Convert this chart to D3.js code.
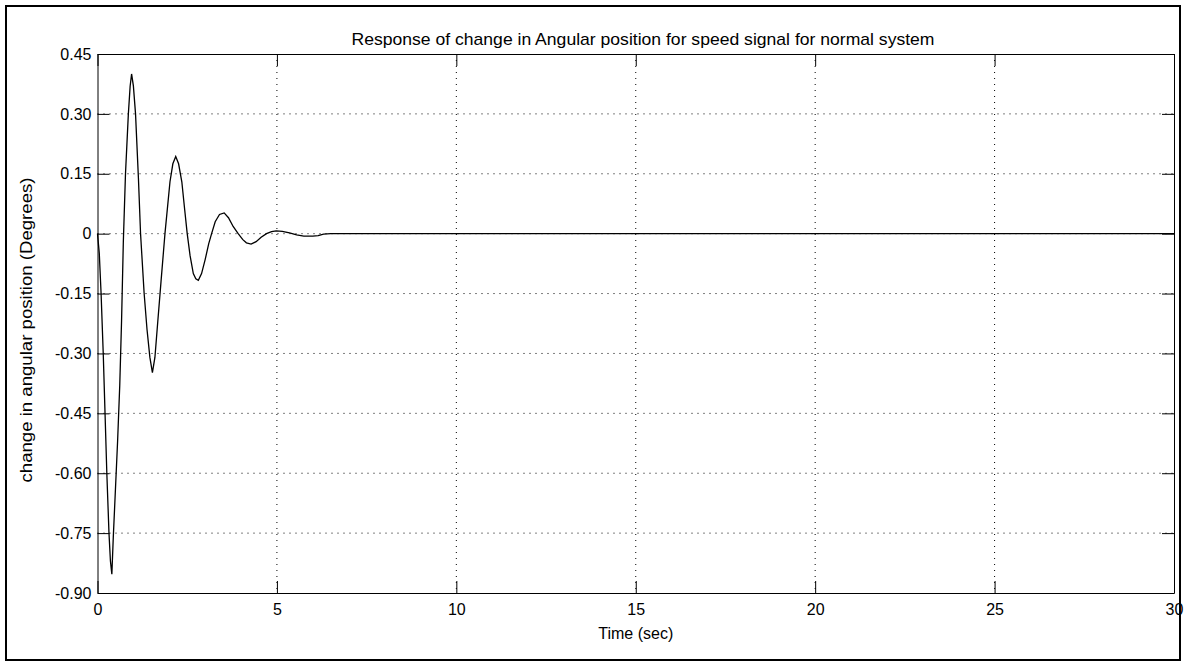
<!DOCTYPE html>
<html>
<head>
<meta charset="utf-8">
<script src="https://cdn.jsdelivr.net/npm/d3@7"></script>
<style>
  body { margin: 0; background: #fff; }
  text { font-family: "Liberation Sans", Arial, sans-serif; fill: #000; }
</style>
</head>
<body>
<div id="chart"></div>
<script>
// time (sec) and response (degrees)
const time = [0, 0.05, 0.10, 0.16, 0.21, 0.26, 0.32, 0.36, 0.40, 0.44, 0.50, 0.56, 0.62, 0.67, 0.72,
  0.78, 0.86, 0.91, 0.95, 1.00, 1.06, 1.14, 1.20, 1.30, 1.38, 1.46, 1.53, 1.60, 1.68, 1.77, 1.88,
  2.02, 2.10, 2.18, 2.26, 2.35, 2.43, 2.50, 2.58, 2.67, 2.74, 2.81, 2.90, 3.00, 3.10, 3.18, 3.28,
  3.40, 3.53, 3.65, 3.78, 3.92, 4.05, 4.15, 4.28, 4.42, 4.56, 4.71, 4.85, 4.98, 5.15, 5.35, 5.55,
  5.75, 6.00, 6.15, 6.30, 6.50, 30];
const response = [0, -0.05, -0.15, -0.30, -0.45, -0.60, -0.75, -0.82, -0.853, -0.76, -0.64, -0.52, -0.38, -0.22, -0.02,
  0.15, 0.30, 0.37, 0.40, 0.37, 0.30, 0.14, 0.00, -0.15, -0.24, -0.31, -0.348, -0.31, -0.22, -0.12, 0.00,
  0.13, 0.175, 0.193, 0.175, 0.13, 0.06, 0.00, -0.055, -0.10, -0.113, -0.117, -0.10, -0.065, -0.025, 0.00, 0.03,
  0.048, 0.052, 0.04, 0.018, 0.00, -0.015, -0.023, -0.026, -0.02, -0.009, 0.00, 0.005, 0.007, 0.006, 0.002, -0.003,
  -0.006, -0.006, -0.005, -0.001, 0, 0];
const xTicks = [0, 5, 10, 15, 20, 25, 30];
const yTicks = [0.45, 0.30, 0.15, 0, -0.15, -0.30, -0.45, -0.60, -0.75, -0.90];
const yTickLabels = ["0.45", "0.30", "0.15", "0", "-0.15", "-0.30", "-0.45", "-0.60", "-0.75", "-0.90"];

const data = time.map((t, i) => ({ t: t, v: response[i] }));

let width = 1184, height = 664,
  margin = ({ top: 54, right: 10, bottom: 71, left: 97.5 });

let x = d3.scaleLinear()
  .domain([0, 30])
  .range([margin.left, width - margin.right]);

let y = d3.scaleLinear()
  .domain([-0.90, 0.45])
  .range([height - margin.bottom, margin.top]);

const svg = d3.select("#chart")
  .append("svg")
  .attr("width", width)
  .attr("height", height);

// outer frame
svg.append("rect")
  .attr("x", 6).attr("y", 6)
  .attr("width", 1174).attr("height", 654)
  .attr("fill", "none")
  .attr("stroke", "#000")
  .attr("stroke-width", 2);

// grid
svg.append("g")
  .selectAll("line")
  .data(xTicks.slice(1, -1))
  .join("line")
  .attr("x1", d => x(d)).attr("x2", d => x(d))
  .attr("y1", y(0.45)).attr("y2", y(-0.90))
  .attr("stroke", "#000")
  .attr("stroke-dasharray", "1,5");

svg.append("g")
  .selectAll("line")
  .data(yTicks.slice(1, -1))
  .join("line")
  .attr("x1", x(0)).attr("x2", x(30))
  .attr("y1", d => y(d)).attr("y2", d => y(d))
  .attr("stroke", "#000")
  .attr("stroke-dasharray", "1,5");

// axes, ticks pointing inward on all four sides
const fmt = (d, i) => yTickLabels[i];

svg.append("g")
  .attr("transform", `translate(0,${y(-0.90)})`)
  .call(d3.axisBottom(x).tickValues(xTicks).tickSize(-12).tickPadding(6).tickSizeOuter(0))
  .call(g => g.selectAll("text").attr("font-size", 16).attr("dy", "1em"));

svg.append("g")
  .attr("transform", `translate(0,${y(0.45)})`)
  .call(d3.axisTop(x).tickValues(xTicks).tickSize(-12).tickFormat("").tickSizeOuter(0));

svg.append("g")
  .attr("transform", `translate(${x(0)},0)`)
  .call(d3.axisLeft(y).tickValues(yTicks).tickFormat(fmt).tickSize(-12).tickPadding(6).tickSizeOuter(0))
  .call(g => g.selectAll("text").attr("font-size", 16));

svg.append("g")
  .attr("transform", `translate(${x(30)},0)`)
  .call(d3.axisRight(y).tickValues(yTicks).tickFormat("").tickSize(-12).tickSizeOuter(0));

svg.selectAll(".domain").attr("stroke", "#000");
svg.selectAll(".tick line").attr("stroke", "#000");

// response line
svg.append("path")
  .datum(data)
  .attr("fill", "none")
  .attr("stroke", "#000")
  .attr("stroke-width", 1.3)
  .attr("d", d3.line().x(d => x(d.t)).y(d => y(d.v)));

// titles
svg.append("text")
  .attr("x", 643)
  .attr("y", 45)
  .attr("text-anchor", "middle")
  .attr("font-size", 17)
  .attr("textLength", 583)
  .attr("lengthAdjust", "spacingAndGlyphs")
  .text("Response of change in Angular position for speed signal for normal system");

svg.append("text")
  .attr("x", (x(0) + x(30)) / 2)
  .attr("y", 639)
  .attr("text-anchor", "middle")
  .attr("font-size", 16)
  .text("Time (sec)");

svg.append("text")
  .attr("transform", `translate(32,330) rotate(-90)`)
  .attr("text-anchor", "middle")
  .attr("font-size", 17)
  .attr("textLength", 305)
  .attr("lengthAdjust", "spacingAndGlyphs")
  .text("change in angular position (Degrees)");
</script>
</body>
</html>
